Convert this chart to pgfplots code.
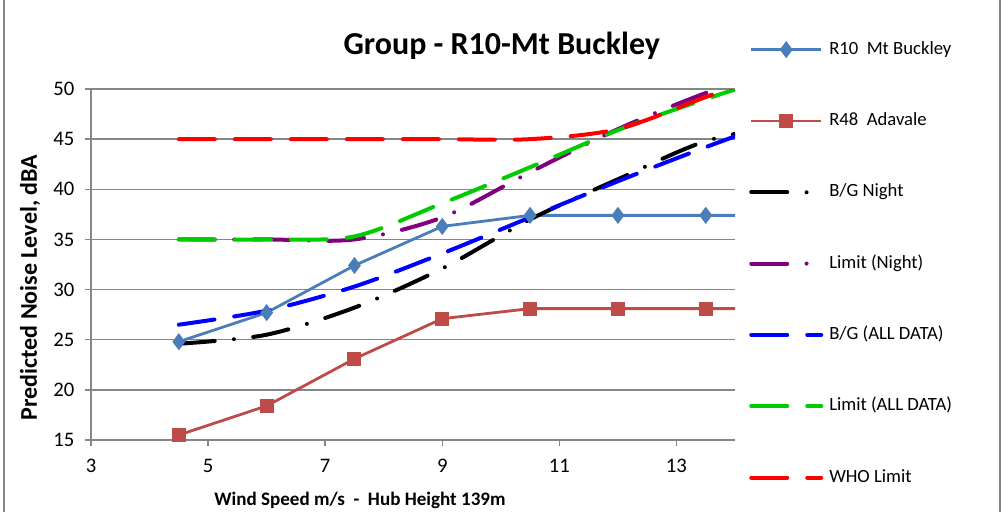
\documentclass[border=0pt]{standalone}
\usepackage{fontspec}
\setmainfont{Carlito}
\usepackage{pgfplots}
\pgfplotsset{compat=1.18}
\definecolor{rten}{RGB}{74,126,187}
\definecolor{rfour}{RGB}{190,75,72}
\definecolor{purp}{RGB}{128,0,128}
\definecolor{grn}{RGB}{0,204,0}
\definecolor{gridgray}{RGB}{134,134,134}
\begin{document}
\begin{tikzpicture}
\path[use as bounding box] (0,0) rectangle (751.5pt,384pt);
\draw[gridgray, line width=1.1pt] (3pt,0) -- (3pt,384pt);
\draw[gridgray, line width=1.1pt] (750pt,0) -- (750pt,384pt);
\begin{axis}[
  at={(68.25pt,54pt)}, anchor=south west,
  scale only axis, width=483pt, height=263.25pt,
  xmin=3, xmax=14, ymin=15, ymax=50,
  xtick={3,5,7,9,11,13}, ytick={15,20,...,50},
  axis x line*=bottom, axis y line*=left,
  axis line style={gridgray, line width=1.1pt, -},
  ymajorgrids, grid style={gridgray, line width=1.1pt},
  tick align=outside, major tick length=4.5pt,
  tick style={gridgray, line width=1.1pt},
  /pgf/number format/assume math mode=true,
  tick label style={font=\fontsize{15.5}{18}\selectfont},
  xticklabel style={yshift=-6.5pt},
  yticklabel style={xshift=-4.5pt},
  legend style={at={(1.0217,1.1377)}, anchor=north west, draw=none, fill=none,
    inner sep=0pt, row sep=40.5pt, /tikz/column sep=4.5pt,
    font=\fontsize{14}{16}\selectfont,
    nodes={inner sep=0pt, text height=10pt, text depth=3pt}},
  legend cell align=left,
  legend image code/.code={\draw[mark repeat=2,mark phase=2,#1,sharp plot] plot coordinates {(0pt,0pt)(26.25pt,0pt)(52.5pt,0pt)};},
]
\addplot[rten, line width=2.1pt, mark=diamond*, mark size=4.7pt, mark options={solid}] coordinates {
(4.5,24.8)(6,27.7)(7.5,32.4)(9,36.3)(10.5,37.4)(12,37.4)(13.5,37.4)(15,37.4)};
\addlegendentry{R10\ \ Mt Buckley}
\addplot[rfour, line width=2.1pt, mark=square*, mark size=4.2pt, mark options={solid}] coordinates {
(4.5,15.5)(6,18.4)(7.5,23.1)(9,27.1)(10.5,28.1)(12,28.1)(13.5,28.1)(15,28.1)};
\addlegendentry{R48\ \ Adavale}
\addplot[black, line width=3pt, line cap=round, smooth, tension=0.5, dash pattern=on 27pt off 14.5pt on 0pt off 14.5pt] coordinates {
(4.5,24.6)(6,25.5)(7.5,28.2)(9,32.1)(10.5,37.0)(12,41.0)(13.5,44.8)(15,46.6)};
\addlegendentry{B/G Night}
\addplot[purp, line width=3pt, line cap=round, smooth, tension=0.5, dash pattern=on 27pt off 14.5pt on 0pt off 14.5pt] coordinates {
(4.5,35)(6,35)(7.5,35)(9,37.2)(10.5,41.7)(12,46.0)(13.5,49.6)(15,52.5)};
\addlegendentry{Limit (Night)}
\addplot[blue, line width=3pt, line cap=round, smooth, tension=0.5, dash pattern=on 27pt off 15pt] coordinates {
(4.5,26.5)(6,27.9)(7.5,30.3)(9,33.6)(10.5,37.2)(12,40.8)(13.5,44.2)(15,47.4)};
\addlegendentry{B/G (ALL DATA)}
\addplot[grn, line width=3pt, line cap=round, smooth, tension=0.5, dash pattern=on 27pt off 15pt] coordinates {
(4.5,35)(6,35)(7.5,35.3)(9,38.6)(10.5,42.2)(12,45.9)(13.5,49.0)(15,51.8)};
\addlegendentry{Limit (ALL DATA)}
\addplot[red, line width=3pt, line cap=round, smooth, tension=0.5, dash pattern=on 27pt off 15pt] coordinates {
(4.5,45)(6,45)(7.5,45)(9,45)(10.5,45)(12,46)(13.5,49.2)(15,52.4)};
\addlegendentry{WHO Limit}
\end{axis}
\node[font=\fontsize{24}{28}\selectfont\bfseries] at (376.3pt,349.5pt) {Group - R10-Mt Buckley};
\node[font=\fontsize{18}{21}\selectfont\bfseries, rotate=90] at (22.5pt,168.4pt) {Predicted Noise Level, dBA};
\node[font=\fontsize{14.3}{17}\selectfont\bfseries] at (270pt,9pt) {Wind Speed m/s\ \ -\ \ Hub Height 139m};
\end{tikzpicture}
\end{document}
